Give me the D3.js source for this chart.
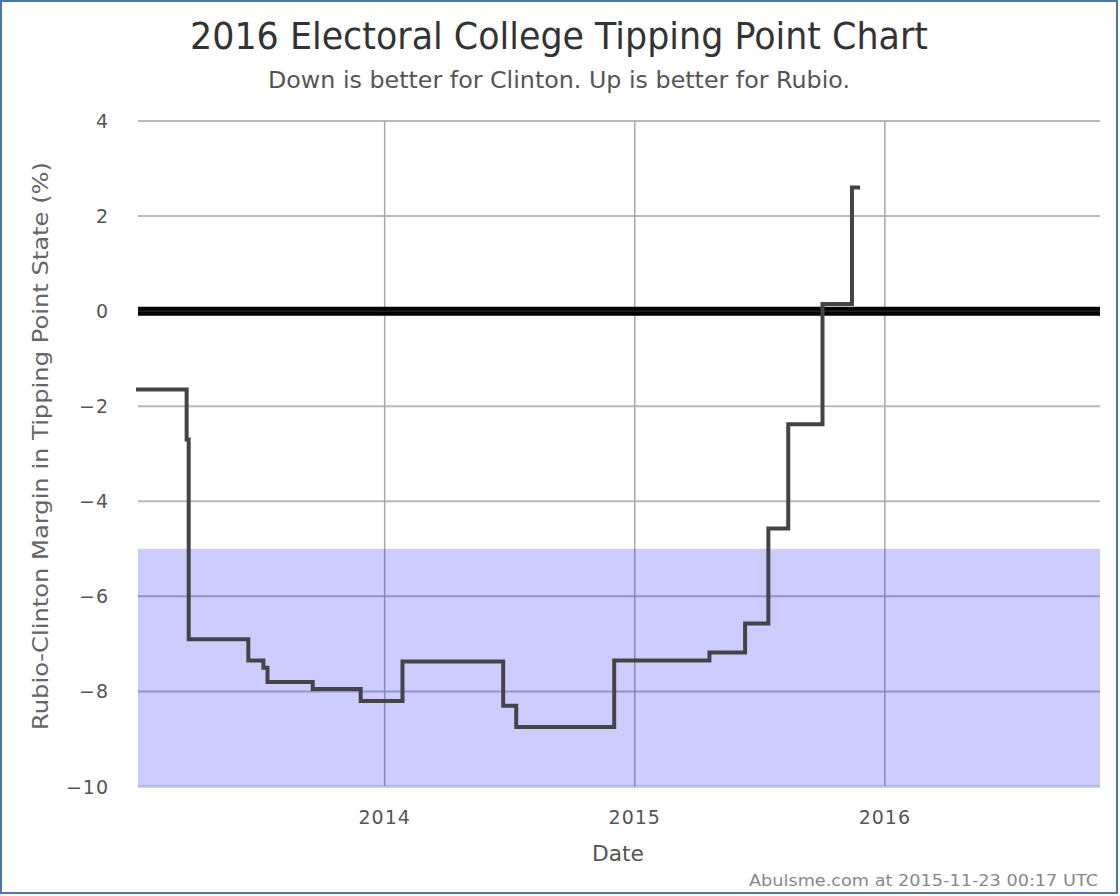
<!DOCTYPE html>
<html lang="en">
<head>
<meta charset="utf-8">
<title>Tipping Point Chart</title>
<style>
  body { margin: 0; background: #fff; }
  svg { display: block; font-family: "DejaVu Sans", sans-serif; }
</style>
</head>
<body>
<script src="https://d3js.org/d3.v7.min.js"></script>
<script>
// data
const dates = ["2013-01-06", "2013-03-18", "2013-03-21", "2013-06-16", "2013-07-08",
  "2013-07-14", "2013-09-18", "2013-11-27", "2014-01-27", "2014-06-23", "2014-07-12",
  "2014-12-02", "2015-04-20", "2015-06-11", "2015-07-15", "2015-08-13", "2015-10-02",
  "2015-11-14", "2015-11-23"];
const margins = [-1.65, -2.7, -6.9, -7.35, -7.5, -7.8, -7.95, -8.2, -7.37, -8.3, -8.75,
  -7.35, -7.18, -6.57, -4.57, -2.38, 0.15, 2.6, 2.6];
const yTicks = [-10, -8, -6, -4, -2, 0, 2, 4];
const xTicks = ["2014-01-01", "2015-01-01", "2016-01-01"];
const xDomain = ["2013-01-06", "2016-11-10"];
const bandRange = [-10, -5];

const W = 1120, H = 896;
const pLeft = 138, pRight = 1100, pTop = 121, pBottom = 786.5;
const parse = d3.utcParse("%Y-%m-%d");

const svg = d3.select("body").append("svg").attr("width", W).attr("height", H);

// fit a text element to a given width (keeps it as real text)
function fit(sel, w) {
  sel.attr("textLength", w).attr("lengthAdjust", "spacingAndGlyphs");
}

const x = d3.scaleUtc().domain(xDomain.map(parse)).range([pLeft, pRight]);
const y = d3.scaleLinear().domain([-10, 4]).range([pBottom, pTop]);

// grid
svg.append("g").selectAll("line").data(yTicks).join("line")
  .attr("x1", pLeft).attr("x2", pRight)
  .attr("y1", d => y(d)).attr("y2", d => y(d))
  .attr("stroke", "#b8b8b8").attr("stroke-width", 2);
svg.append("g").selectAll("line").data(xTicks).join("line")
  .attr("x1", d => x(parse(d))).attr("x2", d => x(parse(d)))
  .attr("y1", pTop).attr("y2", pBottom)
  .attr("stroke", "#a8a8a8").attr("stroke-width", 1.5);

// shaded band
svg.append("rect")
  .attr("x", pLeft).attr("width", pRight - pLeft)
  .attr("y", y(bandRange[1])).attr("height", y(bandRange[0]) - y(bandRange[1]))
  .attr("fill", "rgb(0,0,255)").attr("fill-opacity", 0.2);
svg.append("line")
  .attr("x1", pLeft).attr("x2", pRight).attr("y1", pBottom + 0.5).attr("y2", pBottom + 0.5)
  .attr("stroke", "#c4d2dc").attr("stroke-width", 1.5);

// zero line
svg.append("line")
  .attr("x1", pLeft).attr("x2", pRight).attr("y1", y(0)).attr("y2", y(0))
  .attr("stroke", "#000").attr("stroke-width", 9);
svg.append("line")
  .attr("x1", pLeft).attr("x2", pRight).attr("y1", y(0)).attr("y2", y(0))
  .attr("stroke", "#333").attr("stroke-width", 1);

// tipping point line
const pts = dates.map((d, i) => [parse(d), margins[i]]);
const line = d3.line().x(d => x(d[0])).y(d => y(d[1])).curve(d3.curveStepAfter);
svg.append("path").datum(pts)
  .attr("d", line)
  .attr("fill", "none").attr("stroke", "#444448").attr("stroke-width", 4)
  .attr("stroke-linejoin", "miter").attr("stroke-linecap", "square");

// y tick labels
svg.append("g").selectAll("text").data(yTicks).join("text")
  .attr("x", 109).attr("y", d => y(d) + 7)
  .attr("text-anchor", "end").attr("font-size", 19).attr("letter-spacing", 1)
  .attr("fill", "#555")
  .text(d => d < 0 ? "\u2212" + Math.abs(d) : d);

// x tick labels
svg.append("g").selectAll("text").data(xTicks).join("text")
  .attr("x", d => x(parse(d))).attr("y", 824)
  .attr("text-anchor", "middle").attr("font-size", 19).attr("letter-spacing", 1)
  .attr("fill", "#555")
  .text(d => d.slice(0, 4));

// titles
svg.append("text").attr("x", 559).attr("y", 49).attr("text-anchor", "middle")
  .attr("font-size", 38).attr("fill", "#333")
  .text("2016 Electoral College Tipping Point Chart").call(fit, 738);
svg.append("text").attr("x", 559).attr("y", 88).attr("text-anchor", "middle")
  .attr("font-size", 23).attr("fill", "#555")
  .text("Down is better for Clinton. Up is better for Rubio.").call(fit, 582);
svg.append("text").attr("x", 618).attr("y", 861).attr("text-anchor", "middle")
  .attr("font-size", 22).attr("fill", "#555")
  .text("Date").call(fit, 52);
svg.append("text").attr("transform", "translate(48,446) rotate(-90)")
  .attr("text-anchor", "middle").attr("font-size", 22).attr("fill", "#666")
  .text("Rubio-Clinton Margin in Tipping Point State (%)").call(fit, 568);
svg.append("text").attr("x", 1098).attr("y", 886).attr("text-anchor", "end")
  .attr("font-size", 16).attr("fill", "#888")
  .text("Abulsme.com at 2015-11-23 00:17 UTC").call(fit, 349);

// frame
svg.append("rect").attr("x", 1).attr("y", 1).attr("width", 1116).attr("height", 892)
  .attr("fill", "none").attr("stroke", "#4a76ad").attr("stroke-width", 2);
</script>
</body>
</html>
